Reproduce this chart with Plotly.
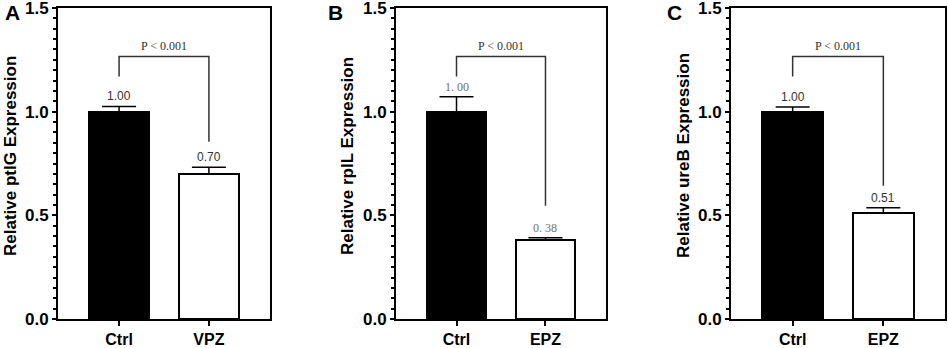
import plotly.graph_objects as go

# ---- data ----
panels = ["A", "B", "C"]
genes = ["ptIG", "rplL", "ureB"]
cats_A = ["Ctrl", "VPZ"]
cats_B = ["Ctrl", "EPZ"]
cats_C = ["Ctrl", "EPZ"]
vals_A = [1.00, 0.70]
vals_B = [1.00, 0.38]
vals_C = [1.00, 0.51]
err_A = [0.025, 0.032]
err_B = [0.072, 0.012]
err_C = [0.022, 0.026]
lbl_A = ["1.00", "0.70"]
lbl_B = ["1. 00", "0. 38"]
lbl_C = ["1.00", "0.51"]
p_text = "P < 0.001"
y_ticks = [0.0, 0.5, 1.0, 1.5]
y_ticklabels = ["0.0", "0.5", "1.0", "1.5"]

W, H = 948, 348
SANS = "Liberation Sans, Arial, sans-serif"
SERIF = "Liberation Serif, Times New Roman, serif"

# layout geometry (pixels)
x_dom_px = [(58, 270), (396, 606), (731, 945)]
y_top, y_bot = 8, 319
title_x_px = [10, 347, 683]
letter_x_px = [12, 335, 674]
bracket_top = 1.266
bracket_left_bot = 1.17
bracket_right_bot = [0.855, 0.546, 0.643]
label_style = [dict(family=SANS, color="#333333"),
               dict(family=SERIF, color="#707070"),
               dict(family=SANS, color="#333333")]

data = [(cats_A, vals_A, err_A, lbl_A),
        (cats_B, vals_B, err_B, lbl_B),
        (cats_C, vals_C, err_C, lbl_C)]

fig = go.Figure()
ydom = [1 - y_bot / H, 1 - y_top / H]

for i, (cats, vals, errs, lbls) in enumerate(data):
    n = "" if i == 0 else str(i + 1)
    xa, ya = "x" + n, "y" + n
    fig.add_trace(go.Bar(
        x=cats, y=vals, xaxis=xa, yaxis=ya, width=0.667,
        marker=dict(color=["black", "white"], line=dict(color="black", width=2)),
        error_y=dict(type="data", array=errs, arrayminus=[0] * len(errs),
                     symmetric=False, color="black", thickness=1.5, width=17),
        showlegend=False, hoverinfo="skip"))
    xd = [x_dom_px[i][0] / W, x_dom_px[i][1] / W]
    common = dict(showline=True, linecolor="black", linewidth=2, mirror=True,
                  ticks="outside", tickcolor="black", tickwidth=2, showgrid=False,
                  zeroline=False, automargin=False, ticklabeloverflow="allow")
    fig.update_layout(**{
        ("xaxis" + n): dict(domain=xd, anchor=ya, type="category",
                            range=[-0.68, 1.68], ticklen=5,
                            tickfont=dict(family=SANS, size=16, color="black", weight="bold"),
                            **common),
        ("yaxis" + n): dict(domain=ydom, anchor=xa, range=[0, 1.5],
                            tickvals=y_ticks, ticktext=y_ticklabels, ticklen=4,
                            tickfont=dict(family=SANS, size=17, color="black", weight="bold"),
                            minor=dict(dtick=0.05, ticks="outside", ticklen=3,
                                       tickwidth=1.5, tickcolor="black"),
                            **common),
    })
    # value labels
    for c, v, e, t in zip(cats, vals, errs, lbls):
        fig.add_annotation(x=c, y=v + e, xref=xa, yref=ya, text=t, showarrow=False,
                           yanchor="bottom", yshift=1,
                           font=dict(size=12, **label_style[i]))
    # significance bracket
    lc = "#333333"
    fig.add_shape(type="path", xref=xa, yref=ya,
                  path=f"M 0 {bracket_left_bot} L 0 {bracket_top} L 1 {bracket_top} L 1 {bracket_right_bot[i]}",
                  line=dict(color=lc, width=1.5))
    fig.add_annotation(x=0.5, y=bracket_top, xref=xa, yref=ya, text=p_text,
                       showarrow=False, yanchor="bottom", yshift=2,
                       font=dict(family=SERIF, size=12, color="#333333"))
    # y title
    fig.add_annotation(x=title_x_px[i] / W, y=1 - 156 / H, xref="paper", yref="paper",
                       text=f"Relative {genes[i]} Expression", textangle=-90,
                       showarrow=False, xanchor="center", yanchor="middle",
                       font=dict(family=SANS, size=17, color="black", weight="bold"))
    # panel letter
    fig.add_annotation(x=letter_x_px[i] / W, y=1 - 13 / H, xref="paper", yref="paper",
                       text=panels[i], showarrow=False, xanchor="center", yanchor="middle",
                       font=dict(family=SANS, size=21, color="black", weight="bold"))

fig.update_layout(template="none", width=W, height=H,
                  margin=dict(l=0, r=0, t=0, b=0, autoexpand=False),
                  paper_bgcolor="white", plot_bgcolor="white", bargap=0)
fig.write_html("out.html", config={"displayModeBar": False},
               post_script="document.body.style.margin='0';document.body.style.overflow='hidden';")
